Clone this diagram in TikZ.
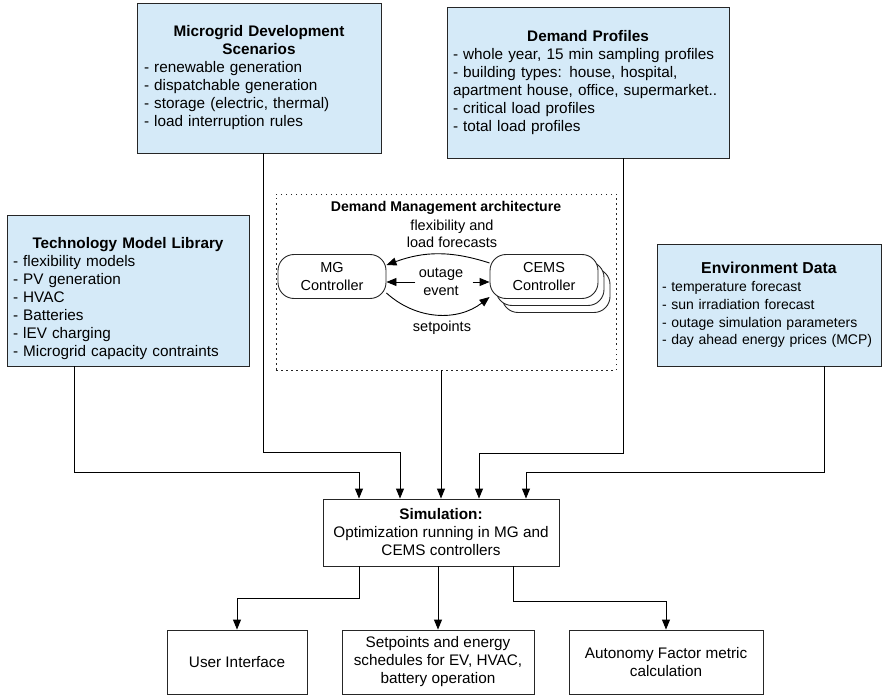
\documentclass[tikz,border=0pt]{standalone}
\usepackage{fontspec}
\setmainfont{Liberation Sans}
\usetikzlibrary{arrows.meta}
\definecolor{scenblue}{RGB}{213,234,248}
\newcommand{\boxhead}[1]{\makebox[\linewidth][c]{\textbf{#1}}}

\begin{document}
\begin{tikzpicture}[x=1pt,y=-1pt,
  txt/.style={font=\fontsize{15.3}{18}\selectfont},
  small/.style={font=\fontsize{14.5}{17.5}\selectfont, align=center},
  databox/.style={txt, draw=black!85, line width=0.9pt, fill=scenblue, inner ysep=0pt, align=left},
  outbox/.style={txt, draw=black!85, line width=0.9pt, fill=white, inner ysep=0pt, align=center},
  ctrl/.style={small, draw=black!85, line width=0.9pt, fill=white, rounded corners=16pt, minimum width=108pt, minimum height=44pt},
  arr/.style={line width=0.9pt, -{Triangle[length=10pt,width=8pt]}}]
\useasboundingbox (0,0) rectangle (884,695);
\node[databox, minimum width=244pt, minimum height=150pt, text width=230pt, inner xsep=7pt] (mgscen) at (259,78) {\boxhead{Microgrid Development}\\\boxhead{Scenarios}\\- renewable generation\\- dispatchable generation\\- storage (electric, thermal)\\- load interruption rules};
\node[databox, minimum width=282pt, minimum height=151pt, text width=270pt, inner xsep=6pt] (demprof) at (588,82.5) {\boxhead{Demand Profiles}\\- whole year, 15 min sampling profiles\\- building types: house, hospital,\\apartment house, office, supermarket..\\- critical load profiles\\- total load profiles};
\node[databox, minimum width=242pt, minimum height=151pt, text width=230pt, inner xsep=6pt] (techlib) at (128,290.5) {\mbox{}\\[9pt]\boxhead{Technology Model Library}\\- flexibility models\\- PV generation\\- HVAC\\- Batteries\\- lEV charging\\- Microgrid capacity contraints};
\node[databox, font=\fontsize{14}{17.8}\selectfont, minimum width=224pt, minimum height=122pt, text width=214pt, inner xsep=5pt] (envdata) at (769,305) {\boxhead{\fontsize{15.8}{17.8}\selectfont Environment Data}\\- temperature forecast\\- sun irradiation forecast\\- outage simulation parameters\\- day ahead energy prices (MCP)};
\node[draw=black!85, line width=0.9pt, dash pattern=on 1.5pt off 3.5pt, minimum width=340pt, minimum height=176pt] (dma) at (446,282) {};
\node[small, font=\fontsize{14.1}{17}\selectfont\bfseries] (dmatitle) at (446,208) {Demand Management architecture};
\node[small] (flexlbl) at (452,234) {flexibility and\\load forecasts};
\node[small] (outlbl) at (441,282) {outage\\event};
\node[small] (setlbl) at (442,328) {setpoints};
\node[ctrl] (mgc) at (332,276.5) {MG\\Controller};
\node[ctrl] (cemsc) at (556,290.5) {};
\node[ctrl] (cemsb) at (550,283.5) {};
\node[ctrl] (cems) at (544,276.5) {CEMS\\Controller};
\draw[arr] ([yshift=13.5pt]cems.west) to[bend right=19] ([yshift=11.5pt]mgc.east);
\draw[arr] (outlbl.west) -- (outlbl.west -| mgc.east);
\draw[arr] ([xshift=6pt]outlbl.east) -- (outlbl.east -| cems.west);
\draw[arr] ([yshift=-16.5pt]mgc.east) to[bend right=40] ([yshift=-20.5pt]cems.west);
\node[outbox, minimum width=236pt, minimum height=67pt] (sim) at (441,532.5) {\textbf{Simulation:}\\Optimization running in MG and\\CEMS controllers};
\node[outbox, minimum width=140pt, minimum height=64pt] (ui) at (237,662) {User Interface};
\node[outbox, minimum width=192pt, minimum height=64pt] (setp) at (438,662) {Setpoints and energy\\schedules for EV, HVAC,\\battery operation};
\node[outbox, minimum width=194pt, minimum height=64pt] (afm) at (666,662) {Autonomy Factor metric\\calculation};
\draw[arr] ([xshift=-54pt]techlib.south) -- ++(0,106) -| ([xshift=-82pt]sim.north);
\draw[arr] ([xshift=4pt]mgscen.south) -- ++(0,299) -| ([xshift=-41pt]sim.north);
\draw[arr] (dma.south -| sim.north) -- (sim.north);
\draw[arr] ([xshift=35pt]demprof.south) -- ++(0,295) -| ([xshift=38pt]sim.north);
\draw[arr] ([xshift=55pt]envdata.south) -- ++(0,106) -| ([xshift=85pt]sim.north);
\draw[arr] ([xshift=-82pt]sim.south) -- ++(0,32) -| (ui.north);
\draw[arr] (setp.north |- sim.south) -- (setp.north);
\draw[arr] ([xshift=72pt]sim.south) -- ++(0,35) -| (afm.north);
\end{tikzpicture}
\end{document}
